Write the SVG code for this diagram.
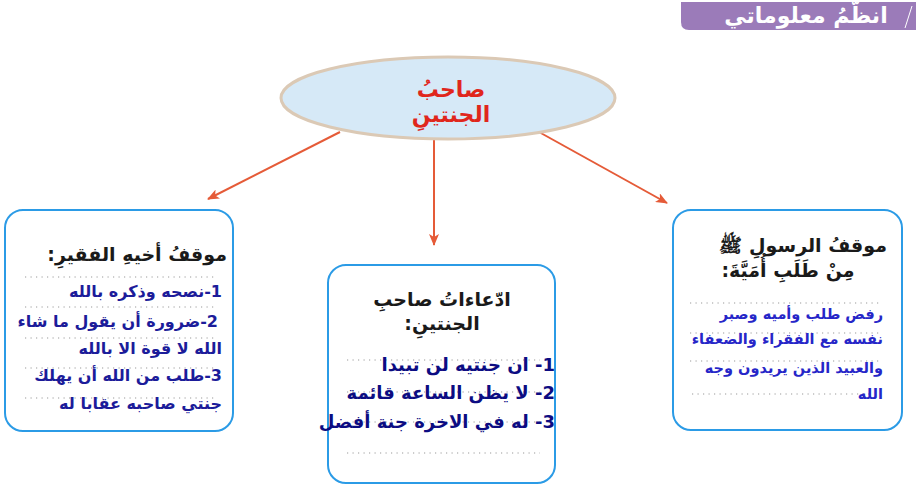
<svg xmlns="http://www.w3.org/2000/svg" width="916" height="487" viewBox="0 0 916 487">
<style>
.ar{font-family:"DejaVu Sans","Liberation Sans",sans-serif;font-weight:bold;}
.box{fill:#ffffff;stroke:#2b9be6;stroke-width:2;}
.dot{stroke:#9a9a9a;stroke-width:1.2;stroke-dasharray:1.2 4.3;fill:none;}
.ttl{fill:#1a1a1a;font-size:19px;}
.lt{fill:#1c1c9a;font-size:16px;}
.ct{fill:#0c0c82;font-size:18px;}
.rt{fill:#2626c8;font-size:14.5px;}
.conn{stroke:#e55b38;stroke-width:2;fill:none;}
</style>
<defs>
<marker id="ah" viewBox="0 0 12 10" refX="11" refY="5" markerWidth="12" markerHeight="10" markerUnits="userSpaceOnUse" orient="auto">
<path d="M0,0 L12,5 L0,10 L3,5 Z" fill="#e55b38"/>
</marker>
</defs>
<rect width="916" height="487" fill="#ffffff"/>
<g id="header">
<path d="M681,2 H916 V30 H689 Q681,30 681,22 Z" fill="#9b7bb9"/>
<line x1="912" y1="6" x2="905" y2="28" stroke="#ffffff" stroke-width="1"/>
<text class="ar" x="806" y="23" font-size="22" fill="#ffffff" text-anchor="middle" direction="rtl">انظّمُ معلوماتي</text>
</g>
<g id="connectors">
<line class="conn" x1="340" y1="132" x2="208" y2="199" marker-end="url(#ah)"/>
<line class="conn" x1="434" y1="140" x2="434" y2="245" marker-end="url(#ah)"/>
<line class="conn" x1="539" y1="132" x2="667" y2="203" marker-end="url(#ah)"/>
</g>
<g id="center">
<ellipse cx="448" cy="98" rx="167" ry="41" fill="#d6e9f7" stroke="#dbc9b5" stroke-width="3"/>
<text class="ar" x="451" y="97" font-size="22" fill="#e0261c" text-anchor="middle" direction="rtl">صاحبُ</text>
<text class="ar" x="451" y="122" font-size="22" fill="#e0261c" text-anchor="middle" direction="rtl">الجنتينِ</text>
</g>
<g id="left-box">
<rect class="box" x="5" y="210" width="228" height="221" rx="18"/>
<text class="ar ttl" x="227" y="261" direction="rtl" text-anchor="start">موقفُ أخيهِ الفقيرِ:</text>
<line class="dot" x1="25" y1="277" x2="215" y2="277"/>
<line class="dot" x1="25" y1="307" x2="215" y2="307"/>
<line class="dot" x1="25" y1="338" x2="215" y2="338"/>
<line class="dot" x1="25" y1="368" x2="215" y2="368"/>
<line class="dot" x1="25" y1="398" x2="215" y2="398"/>
<text class="ar lt" x="222" y="297" direction="rtl" text-anchor="start">1-نصحه وذكره بالله</text>
<text class="ar lt" x="218" y="327" direction="rtl" text-anchor="start">2-ضرورة أن يقول ما شاء</text>
<text class="ar lt" x="222" y="354" direction="rtl" text-anchor="start">الله لا قوة الا بالله</text>
<text class="ar lt" x="222" y="381" direction="rtl" text-anchor="start">3-طلب من الله أن يهلك</text>
<text class="ar lt" x="222" y="409" direction="rtl" text-anchor="start">جنتي صاحبه عقابا له</text>
</g>
<g id="middle-box">
<rect class="box" x="328" y="265" width="227" height="218" rx="18"/>
<text class="ar ttl" x="442" y="306" text-anchor="middle" direction="rtl">ادّعاءاتُ صاحبِ</text>
<text class="ar ttl" x="442" y="330" text-anchor="middle" direction="rtl">الجنتينِ:</text>
<line class="dot" x1="347" y1="360" x2="540" y2="360"/>
<line class="dot" x1="347" y1="392" x2="540" y2="392"/>
<line class="dot" x1="347" y1="422" x2="540" y2="422"/>
<line class="dot" x1="347" y1="453" x2="540" y2="453"/>
<text class="ar ct" x="555" y="371" direction="rtl" text-anchor="start">1- ان جنتيه لن تبيدا</text>
<text class="ar ct" x="555" y="399" direction="rtl" text-anchor="start">2- لا يظن الساعة قائمة</text>
<text class="ar ct" x="555" y="428" direction="rtl" text-anchor="start">3- له في الاخرة جنة أفضل</text>
</g>
<g id="right-box">
<rect class="box" x="673" y="210" width="229" height="220" rx="18"/>
<text class="ar ttl" x="887" y="252" direction="rtl" text-anchor="start">موقفُ الرسولِ ﷺ</text>
<text class="ar ttl" x="788" y="277" text-anchor="middle" direction="rtl">مِنْ طَلَبِ أُمَيَّةَ:</text>
<line class="dot" x1="690" y1="303" x2="880" y2="303"/>
<line class="dot" x1="690" y1="333" x2="880" y2="333"/>
<line class="dot" x1="690" y1="361" x2="880" y2="361"/>
<line class="dot" x1="692" y1="394" x2="870" y2="394"/>
<text class="ar rt" x="883" y="319" direction="rtl" text-anchor="start">رفض طلب وأميه وصبر</text>
<text class="ar rt" x="883" y="344" direction="rtl" text-anchor="start">نفسه مع الفقراء والضعفاء</text>
<text class="ar rt" x="883" y="373" direction="rtl" text-anchor="start">والعبيد الذين يريدون وجه</text>
<text class="ar rt" x="883" y="399" direction="rtl" text-anchor="start">الله</text>
</g>
</svg>
